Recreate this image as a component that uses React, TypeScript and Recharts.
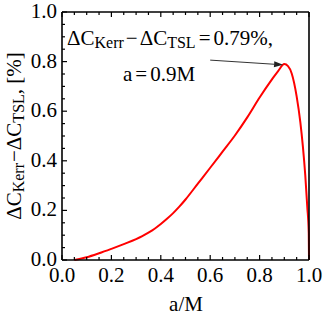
import React from "react";
import { LineChart, Line, XAxis, YAxis, ReferenceLine, Customized } from "recharts";

const spin: number[] = [0.05, 0.1, 0.15, 0.2, 0.25, 0.3, 0.325, 0.35, 0.375, 0.4, 0.425, 0.45, 0.475, 0.5, 0.55, 0.6, 0.65, 0.7, 0.75, 0.8, 0.85, 0.875, 0.9, 0.915, 0.93, 0.95, 0.965, 0.975, 0.985, 0.993, 0.999, 1.0];
const diff: number[] = [0, 0.011, 0.027, 0.045, 0.064, 0.084, 0.096, 0.11, 0.126, 0.145, 0.166, 0.189, 0.215, 0.244, 0.308, 0.372, 0.437, 0.502, 0.575, 0.655, 0.728, 0.762, 0.79, 0.782, 0.752, 0.66, 0.555, 0.46, 0.34, 0.215, 0.108, 0];
const allTicks: number[] = [0, 0.05, 0.1, 0.15, 0.2, 0.25, 0.3, 0.35, 0.4, 0.45, 0.5, 0.55, 0.6, 0.65, 0.7, 0.75, 0.8, 0.85, 0.9, 0.95, 1.0];
const majorTicks: number[] = [0, 0.2, 0.4, 0.6, 0.8, 1.0];
const majorLabels: string[] = ["0.0", "0.2", "0.4", "0.6", "0.8", "1.0"];
const arrowFrom = { a: 0.6, v: 0.806 };
const arrowTo = { a: 0.895, v: 0.787 };

const data = spin.map((a, i) => ({ a, v: diff[i] }));

const FONT = "'Liberation Serif', 'DejaVu Serif', serif";
const fs = (size: number) => ({ fontFamily: FONT, fontSize: size });
const MAJ = 5;
const MIN = 3;

const majorIndex = (v: number) => majorTicks.findIndex((m) => Math.abs(m - v) < 1e-6);

const BottomTick = (props: any) => {
  const { x, y, payload } = props;
  const idx = majorIndex(payload.value);
  const len = idx >= 0 ? MAJ : MIN;
  return (
    <g>
      <line x1={x} y1={y} x2={x} y2={y - len} stroke="#000" strokeWidth={1.2} />
      {idx >= 0 && (
        <text x={x} y={y + 22} textAnchor="middle" fontFamily={FONT} fontSize={21} style={fs(21)} fill="#000">
          {majorLabels[idx]}
        </text>
      )}
    </g>
  );
};

const TopTick = (props: any) => {
  const { x, y, payload } = props;
  const idx = majorIndex(payload.value);
  const len = idx >= 0 ? MAJ : MIN;
  return <line x1={x} y1={y} x2={x} y2={y + len} stroke="#000" strokeWidth={1.2} />;
};

const LeftTick = (props: any) => {
  const { x, y, payload } = props;
  const idx = majorIndex(payload.value);
  const len = idx >= 0 ? MAJ : MIN;
  return (
    <g>
      <line x1={x} y1={y} x2={x + len} y2={y} stroke="#000" strokeWidth={1.2} />
      {idx >= 0 && (
        <text x={x - 5} y={y + 6} textAnchor="end" fontFamily={FONT} fontSize={21} style={fs(21)} fill="#000">
          {majorLabels[idx]}
        </text>
      )}
    </g>
  );
};

const RightTick = (props: any) => {
  const { x, y, payload } = props;
  const idx = majorIndex(payload.value);
  const len = idx >= 0 ? MAJ : MIN;
  return <line x1={x} y1={y} x2={x - len} y2={y} stroke="#000" strokeWidth={1.2} />;
};

const ArrowShape = (props: any) => {
  const { x1, y1, x2, y2 } = props;
  const ang = Math.atan2(y2 - y1, x2 - x1);
  const L = 9;
  const W = 3;
  const bx = x2 - L * Math.cos(ang);
  const by = y2 - L * Math.sin(ang);
  const px = -Math.sin(ang) * W;
  const py = Math.cos(ang) * W;
  return (
    <g>
      <line x1={x1} y1={y1} x2={bx} y2={by} stroke="#333" strokeWidth={1} />
      <polygon points={`${x2},${y2} ${bx + px},${by + py} ${bx - px},${by - py}`} fill="#222" />
    </g>
  );
};

const Texts = () => (
  <g fill="#000" fontFamily={FONT}>
    <text x={67} y={45} style={fs(21)}>
      ΔC<tspan style={fs(16)} dy={3}>Kerr</tspan>
      <tspan dy={-3} dx={2}>−</tspan>
      <tspan dx={2}>ΔC</tspan>
      <tspan style={fs(16)} dy={3}>TSL</tspan>
      <tspan dy={-3} dx={3}>=</tspan>
      <tspan dx={3}>0.79%,</tspan>
    </text>
    <text x={123} y={81} style={fs(21)}>
      a<tspan dx={3}>=</tspan>
      <tspan dx={3}>0.9M</tspan>
    </text>
    <text x={186} y={311} style={fs(21)} textAnchor="middle">a/M</text>
    <text transform="translate(21,136) rotate(-90)" style={fs(21)} textAnchor="middle">
      ΔC<tspan style={fs(16)} dy={3}>Kerr</tspan>
      <tspan dy={-3} dx={1}>−ΔC</tspan>
      <tspan style={fs(16)} dy={3}>TSL</tspan>
      <tspan dy={-3}>, [%]</tspan>
    </text>
  </g>
);

const axisLine = { stroke: "#000", strokeWidth: 1.6 };

export default function App() {
  return (
    <div style={{ position: "absolute", left: 0, top: 0, width: 324, height: 320, background: "#fff", fontFamily: FONT }}>
      <LineChart width={324} height={320} data={data} margin={{ top: 0, right: 0, bottom: 0, left: 0 }}>
        <XAxis
          xAxisId="b"
          dataKey="a"
          type="number"
          domain={[0, 1]}
          ticks={allTicks}
          interval={0}
          height={60}
          tickSize={0}
          tickMargin={0}
          tickLine={false}
          axisLine={axisLine}
          tick={<BottomTick />}
        />
        <XAxis
          xAxisId="t"
          orientation="top"
          dataKey="a"
          type="number"
          domain={[0, 1]}
          ticks={allTicks}
          interval={0}
          height={12}
          tickSize={0}
          tickMargin={0}
          tickLine={false}
          axisLine={axisLine}
          tick={<TopTick />}
        />
        <YAxis
          yAxisId="l"
          type="number"
          domain={[0, 1]}
          ticks={allTicks}
          interval={0}
          width={62}
          tickSize={0}
          tickMargin={0}
          tickLine={false}
          axisLine={axisLine}
          tick={<LeftTick />}
        />
        <YAxis
          yAxisId="r"
          orientation="right"
          type="number"
          domain={[0, 1]}
          ticks={allTicks}
          interval={0}
          width={15}
          tickSize={0}
          tickMargin={0}
          tickLine={false}
          axisLine={axisLine}
          tick={<RightTick />}
        />
        <Line
          xAxisId="b"
          yAxisId="l"
          dataKey="v"
          type="monotone"
          stroke="#ff0000"
          strokeWidth={2}
          dot={false}
          activeDot={false}
          isAnimationActive={false}
        />
        <ReferenceLine
          xAxisId="b"
          yAxisId="l"
          segment={[{ x: arrowFrom.a, y: arrowFrom.v }, { x: arrowTo.a, y: arrowTo.v }]}
          shape={<ArrowShape />}
        />
        <Customized component={Texts} />
      </LineChart>
    </div>
  );
}
